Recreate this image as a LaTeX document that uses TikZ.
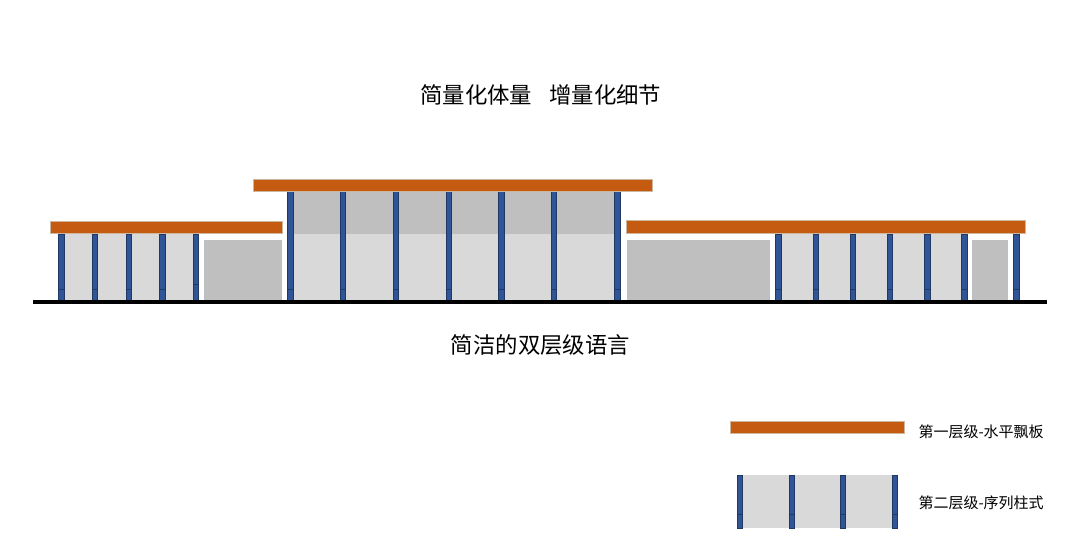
\documentclass[tikz,border=0pt]{standalone}
\usepackage{fontspec}
\setmainfont{Noto Sans CJK SC}
\usepackage{xcolor}
\definecolor{roofc}{HTML}{C55A11}
\definecolor{roofl}{HTML}{CDB79E}
\definecolor{pillarc}{HTML}{2F5597}
\definecolor{pillarl}{HTML}{203864}
\definecolor{lightc}{HTML}{D9D9D9}
\definecolor{darkc}{HTML}{BFBFBF}

\begin{document}
\begin{tikzpicture}[x=1pt,y=-1pt]
    \tikzstyle{roof}=[fill=roofc,draw=roofl,line width=0.8pt]
    \tikzstyle{wall}=[fill=lightc]
    \tikzstyle{block}=[fill=darkc]
    \tikzstyle{pillar}=[fill=pillarc,draw=pillarl,line width=0.3pt]
    \tikzstyle{joint}=[draw=pillarl,line width=0.7pt]
    \tikzstyle{ttl}=[font=\fontsize{22.4}{26}\selectfont,inner sep=0pt]
    \tikzstyle{lbl}=[font=\fontsize{15}{18}\selectfont,inner sep=0pt,anchor=west]

    \useasboundingbox (0,0) rectangle (1080,558);
    \fill[white] (0,0) rectangle (1080,558);

    % walls
    \fill[wall] (64,234) rectangle (193,300);
    \fill[block] (204,239.5) rectangle (282,300);
    \fill[wall] (293,233.5) rectangle (614,300);
    \fill[block] (293,191.5) rectangle (614,233.5);
    \fill[block] (626.5,239.5) rectangle (770,300);
    \fill[wall] (781,234) rectangle (961,300);
    \fill[block] (971.7,239.5) rectangle (1008,300);

    % pillars: left edge / bottom / joint height
    \foreach \px/\pb/\pj in {58.3/300/289,92/302/289,125.7/302/289,159.2/300/289,193/300/284.7}
      {\draw[pillar] (\px+0.2,234) rectangle (\px+5.5,\pb);
       \draw[joint] (\px,\pj) -- (\px+5.7,\pj);}
    \foreach \px in {287.3,340,393,445.6,498.3,551,614.3}
      {\draw[pillar] (\px+0.2,191.5) rectangle (\px+5.5,300);
       \draw[joint] (\px,289) -- (\px+5.7,289);}
    \foreach \px in {775.3,812.6,849.7,887,924.3,961.3,1013.3}
      {\draw[pillar] (\px+0.2,234) rectangle (\px+5.5,302);
       \draw[joint] (\px,289.5) -- (\px+5.7,289.5);}

    % roofs and ground
    \draw[roof] (50.5,221) rectangle (282.5,233.7);
    \draw[roof] (253.5,179) rectangle (652,191.3);
    \draw[roof] (626.5,220.7) rectangle (1025.5,233.7);
    \fill[black] (33,300) rectangle (1047,304.2);

    % legend
    \draw[roof] (730.5,421.3) rectangle (904,433);
    \fill[wall] (743,475) rectangle (892,527.7);
    \foreach \px in {737,788.7,840,892}
      {\draw[pillar] (\px+0.2,475) rectangle (\px+5.5,527.7);
       \draw[joint] (\px,514) -- (\px+5.7,514);}

    \node[ttl] (title) at (540.8,95) {简量化体量\hspace{17pt}增量化细节};
    \node[ttl] (caption) at (540.5,345) {简洁的双层级语言};
    \node[lbl] (first) at (918.3,431.5) {第一层级-水平飘板};
    \node[lbl] (second) at (918.3,502.5) {第二层级-序列柱式};
\end{tikzpicture}
\end{document}
